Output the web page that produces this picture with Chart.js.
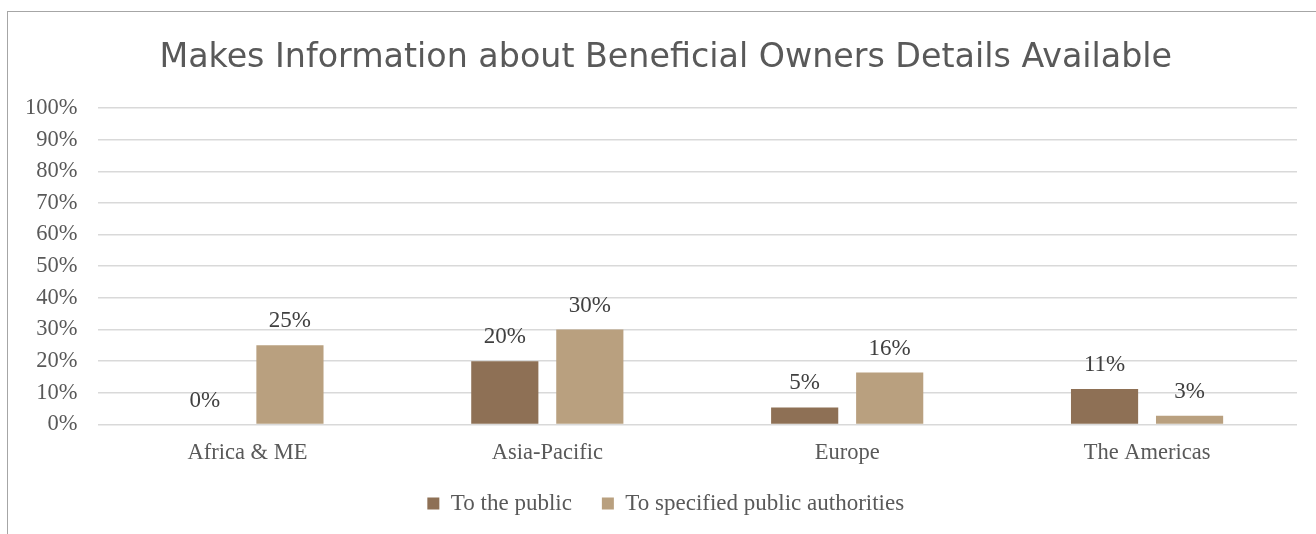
<!DOCTYPE html>
<html>
<head>
<meta charset="utf-8">
<script src="https://cdn.jsdelivr.net/npm/chart.js@4"></script>
<style>
html,body{margin:0;padding:0;background:#fff;overflow:hidden;}
#frame{position:absolute;left:7px;top:11px;width:1330px;height:560px;border:1.5px solid #a6a6a6;box-sizing:border-box;}
#wrap{position:absolute;left:1px;top:1px;width:1308px;height:522px;}
</style>
</head>
<body>
<div id="frame"><div id="wrap"><canvas id="c"></canvas></div></div>
<script>
const categories = ['Africa & ME', 'Asia-Pacific', 'Europe', 'The Americas'];
const publicValues = [0, 20, 5.4, 11.2];
const authorityValues = [25, 30, 16.4, 2.8];
const yTicks = [0, 10, 20, 30, 40, 50, 60, 70, 80, 90, 100];
const seriesNames = ['To the public', 'To specified public authorities'];

const serif = "'Liberation Serif', 'DejaVu Serif', serif";
const labelPlugin = {
  id: 'valueLabels',
  afterDatasetsDraw(chart) {
    const ctx = chart.ctx;
    ctx.save();
    ctx.font = '23px ' + serif;
    ctx.fillStyle = '#404040';
    ctx.textAlign = 'center';
    ctx.textBaseline = 'alphabetic';
    chart.data.datasets.forEach((ds, i) => {
      const meta = chart.getDatasetMeta(i);
      meta.data.forEach((el, j) => {
        ctx.fillText(Math.round(ds.data[j]) + '%', el.x, el.y - 18);
      });
    });
    ctx.restore();
  }
};

new Chart(document.getElementById('c'), {
  type: 'bar',
  data: {
    labels: categories,
    datasets: [
      { label: seriesNames[0], data: publicValues, yAxisID: 'y', backgroundColor: '#8E7055', categoryPercentage: 0.567, barPercentage: 0.79 },
      { label: seriesNames[1], data: authorityValues, yAxisID: 'y', backgroundColor: '#B9A07F', categoryPercentage: 0.567, barPercentage: 0.79 }
    ]
  },
  options: {
    responsive: true,
    maintainAspectRatio: false,
    animation: false,
    layout: { padding: { left: 15.5, right: 10, top: 0, bottom: 10 } },
    plugins: {
      title: {
        display: true,
        text: 'Makes Information about Beneficial Owners Details Available',
        font: { family: "'DejaVu Sans', sans-serif", size: 33.3, weight: 'normal' },
        color: '#595959',
        padding: { top: 25, bottom: 30 }
      },
      legend: {
        position: 'bottom',
        labels: {
          font: { family: serif, size: 23, lineHeight: 1 },
          color: '#595959',
          boxWidth: 12,
          boxHeight: 12,
          padding: 30
        }
      },
      tooltip: { enabled: false }
    },
    scales: {
      x: {
        grid: { display: false },
        border: { display: false },
        ticks: { font: { family: serif, size: 22.5, lineHeight: 1 }, color: '#595959', padding: 9.5 },
        afterFit(axis) { axis.height -= 12; axis._computeLabelArea = () => undefined; }
      },
      y: {
        position: 'left',
        min: 0, max: 100,
        afterBuildTicks(axis) { axis.ticks = yTicks.map(v => ({ value: v })); },
        afterFit(axis) { axis.width = 73; },
        grid: { color: '#d9d9d9', lineWidth: 1.5, drawTicks: false },
        border: { display: false },
        ticks: { font: { family: serif, size: 22.5 }, color: '#595959', padding: 20, callback: v => v + '%' }
      },
      yRight: {
        type: 'linear',
        position: 'right',
        min: 0, max: 100,
        grid: { display: false, drawOnChartArea: false },
        border: { display: false },
        ticks: { display: false },
        afterFit(axis) { axis.width = 10; }
      }
    }
  },
  plugins: [labelPlugin]
});
</script>
</body>
</html>
